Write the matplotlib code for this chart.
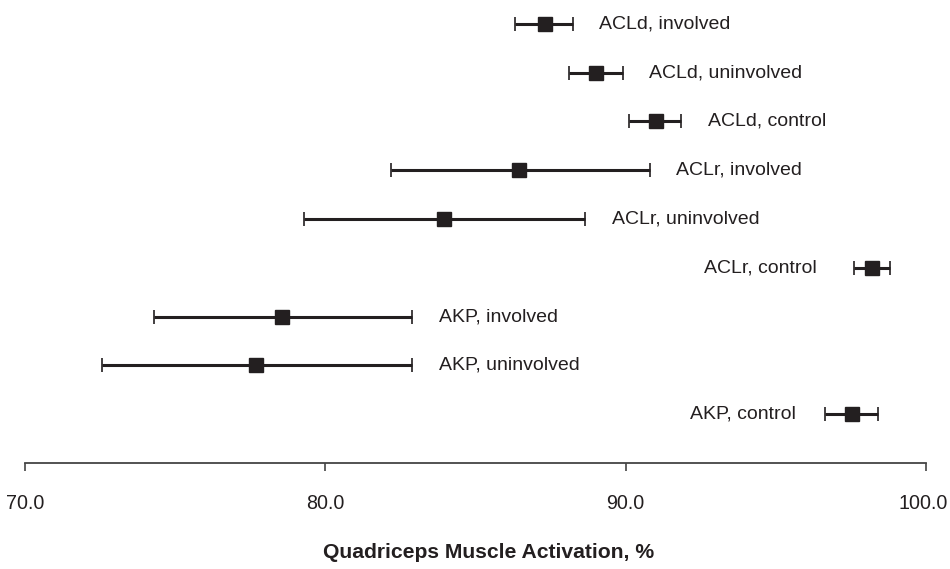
import matplotlib
matplotlib.use("Agg")
import matplotlib.pyplot as plt
import matplotlib.transforms as mtransforms
import numpy as np

plt.rcParams['font.family'] = ['Liberation Sans', 'DejaVu Sans']

labels = ["ACLd, involved", "ACLd, uninvolved", "ACLd, control",
          "ACLr, involved", "ACLr, uninvolved", "ACLr, control",
          "AKP, involved", "AKP, uninvolved", "AKP, control"]
means = [87.3, 89.0, 91.0, 86.45, 83.95, 98.2, 78.55, 77.7, 97.55]
lower = [86.3, 88.1, 90.1, 82.2, 79.3, 97.6, 74.3, 72.55, 96.65]
upper = [88.25, 89.9, 91.85, 90.8, 88.65, 98.8, 82.9, 82.9, 98.4]
label_side = ["right", "right", "right", "right", "right", "left",
              "right", "right", "left"]
x_ticks = [70.0, 80.0, 90.0, 100.0]
x_label = "Quadriceps Muscle Activation, %"

color = "#231f20"

fig = plt.figure(figsize=(9.5, 5.69), dpi=100)
ax = fig.add_axes([25 / 950, (569 - 463) / 569, (926 - 25) / 950, 463 / 569])

y = np.arange(len(labels))
means_a = np.array(means)
xerr = np.vstack([means_a - np.array(lower), np.array(upper) - means_a])

ax.errorbar(means_a, y, xerr=xerr, fmt='s', color=color, ecolor=color,
            elinewidth=2.2, capsize=5, capthick=1.2, markersize=9.5,
            markeredgecolor=color, markerfacecolor=color, zorder=3)

for i, lab in enumerate(labels):
    if label_side[i] == "right":
        ax.annotate(lab, xy=(upper[i], y[i]), xytext=(19, 0),
                    textcoords='offset points', ha='left', va='center',
                    fontsize=14, color=color)
    else:
        off = -27 if i == 5 else -21
        ax.annotate(lab, xy=(lower[i], y[i]), xytext=(off, 0),
                    textcoords='offset points', ha='right', va='center',
                    fontsize=14, color=color)

ax.set_xlim(70, 100)
ax.set_ylim(9.0, -0.49)
ax.set_xticks(x_ticks)
ax.set_xticklabels([f"{t:.1f}" for t in x_ticks], fontsize=14.2, color=color)
ax.tick_params(axis='x', direction='out', length=6, width=1.2, pad=16,
               color='#444444')
# keep the last tick label inside the figure
last = ax.get_xticklabels()[-1]
last.set_transform(last.get_transform() +
                   mtransforms.ScaledTranslation(-3 / 100, 0, fig.dpi_scale_trans))
ax.set_yticks([])
for s in ['top', 'right', 'left']:
    ax.spines[s].set_visible(False)
ax.spines['bottom'].set_color('#444444')
ax.spines['bottom'].set_linewidth(1.3)
ax.spines['bottom'].set_bounds(70, 100)

ax.set_xlabel(x_label, fontsize=15.2, fontweight='bold', color=color)
ax.xaxis.set_label_coords((489 - 25) / 901, -(553 - 463) / 463)
ax.xaxis.label.set_va('center')

fig.savefig("out.png", dpi=100)
